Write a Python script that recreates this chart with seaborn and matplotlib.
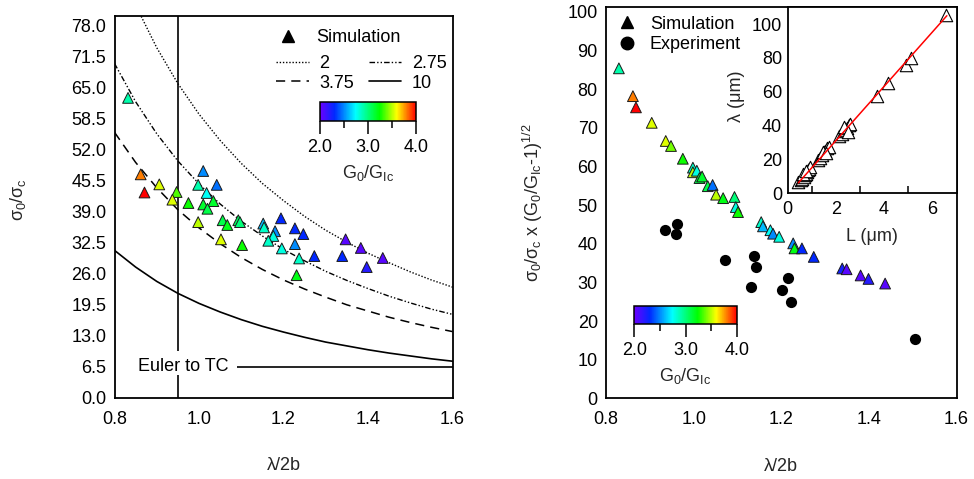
import matplotlib
matplotlib.use("Agg")
import numpy as np
import pandas as pd
import matplotlib.pyplot as plt
import seaborn as sns
from matplotlib.colors import LinearSegmentedColormap, Normalize
from matplotlib.cm import ScalarMappable
from matplotlib.lines import Line2D
from matplotlib.ticker import FixedLocator

sns.set_style("white")
plt.rcParams["font.family"] = ["Liberation Sans", "DejaVu Sans"]
plt.rcParams["mathtext.fontset"] = "custom"
plt.rcParams["mathtext.rm"] = "Liberation Sans"
plt.rcParams["mathtext.it"] = "Liberation Sans"
plt.rcParams["mathtext.sf"] = "Liberation Sans"
plt.rcParams["mathtext.bf"] = "Liberation Sans:bold"
plt.rcParams["axes.edgecolor"] = "black"
plt.rcParams["text.color"] = "black"
plt.rcParams["xtick.color"] = "black"
plt.rcParams["ytick.color"] = "black"
FS = 13

# ---------------- data: left panel ----------------
curve_x = [0.80, 0.85, 0.90, 0.95, 1.00, 1.05, 1.10, 1.15, 1.20, 1.25, 1.30,
           1.35, 1.40, 1.45, 1.50, 1.55, 1.60]
curve_2 = [92.8, 82.2, 73.3, 65.8, 59.4, 53.9, 49.1, 44.9, 41.3, 38.0, 35.1,
           32.6, 30.3, 28.3, 26.4, 24.7, 23.2]
curve_275 = [70.0, 62.0, 55.3, 49.6, 44.8, 40.6, 37.0, 33.9, 31.1, 28.7, 26.5,
             24.6, 22.9, 21.3, 19.9, 18.6, 17.5]
curve_375 = [55.6, 49.3, 44.0, 39.4, 35.6, 32.3, 29.4, 26.9, 24.7, 22.8, 21.1,
             19.5, 18.2, 16.9, 15.8, 14.8, 13.9]
curve_10 = [30.9, 27.4, 24.4, 21.9, 19.8, 18.0, 16.4, 15.0, 13.8, 12.7, 11.7,
            10.9, 10.1, 9.4, 8.8, 8.2, 7.7]
curve_labels = ["2", "2.75", "3.75", "10"]

sim_left_x = [0.862, 0.871, 0.906, 0.947, 0.937, 0.975, 1.010, 0.998, 1.018, 1.042,
              1.010, 1.034, 1.020, 0.998, 1.056, 1.067, 1.052, 1.102, 1.093, 1.097,
              1.152, 1.154, 1.194, 1.180, 1.176, 1.164, 1.196, 1.227, 1.247, 1.227,
              1.237, 1.231, 1.273, 1.339, 1.347, 1.383, 1.397, 1.435, 0.832]
sim_left_y = [46.8, 43.0, 44.7, 43.1, 41.5, 40.8, 47.5, 44.6, 42.9, 44.6,
              40.5, 41.2, 39.6, 36.8, 37.2, 36.2, 33.2, 32.0, 37.2, 36.8,
              36.5, 35.7, 37.6, 34.9, 33.9, 32.9, 31.3, 35.5, 34.3, 32.2,
              29.2, 25.7, 29.7, 29.7, 33.2, 31.4, 27.4, 29.3, 62.8]
sim_left_g = [3.8, 4.0, 3.55, 3.35, 3.55, 3.25, 2.5, 2.9, 2.75, 2.45,
              3.15, 3.15, 3.1, 3.5, 3.1, 3.2, 3.55, 3.25, 3.05, 3.0,
              2.6, 2.85, 2.3, 2.5, 2.8, 2.85, 2.8, 2.3, 2.3, 2.5,
              2.85, 3.2, 2.3, 2.3, 2.05, 2.05, 2.2, 2.05, 2.9]

euler_level = 6.5
euler_line_x = [1.089, 1.6]
transition_x = 0.95
transition_segments = [(0.0, 4.8), (9.9, 80.0)]

# ---------------- data: right panel ----------------
sim_right_x = [0.829, 0.861, 0.868, 0.904, 0.936, 0.948, 0.975, 0.998, 0.998, 1.007,
               1.013, 1.019, 1.032, 1.043, 1.051, 1.067, 1.093, 1.096, 1.101, 1.154,
               1.158, 1.175, 1.181, 1.195, 1.227, 1.230, 1.247, 1.274, 1.339, 1.349,
               1.381, 1.399, 1.437]
sim_right_y = [85.4, 78.2, 75.3, 71.3, 66.6, 65.3, 62.0, 59.7, 58.5, 58.9,
               57.0, 57.4, 54.9, 55.2, 52.7, 51.8, 52.1, 49.5, 48.2, 45.6,
               44.5, 43.5, 42.6, 41.8, 40.1, 38.8, 38.8, 36.6, 33.6, 33.4,
               31.8, 30.9, 29.7]
sim_right_g = [2.9, 3.8, 4.0, 3.55, 3.55, 3.4, 3.25, 2.85, 3.5, 2.8,
               3.1, 3.15, 3.1, 2.45, 3.5, 3.2, 3.0, 2.8, 3.25, 2.85,
               2.6, 2.75, 2.5, 2.8, 2.5, 3.2, 2.3, 2.3, 2.25, 2.05,
               2.05, 2.2, 2.05]

exp_x = [0.934, 0.961, 0.959, 1.072, 1.137, 1.142, 1.215, 1.131, 1.202, 1.221, 1.505]
exp_y = [43.5, 45.2, 42.5, 35.7, 36.8, 34.0, 31.2, 28.8, 28.0, 24.9, 15.4]

# ---------------- data: inset ----------------
inset_L = [0.45, 0.55, 0.62, 0.68, 0.72, 0.78, 0.82, 0.86, 0.90, 0.95, 0.65, 0.75,
           1.25, 1.35, 1.42, 1.50, 1.55, 1.62, 1.70, 1.45, 1.58,
           2.15, 2.25, 2.32, 2.40, 2.45, 2.55, 2.60, 2.35, 2.50,
           3.71, 4.15, 4.89, 5.10, 6.58]
inset_lam = [6.5, 7.5, 8.5, 9.5, 10.5, 11.5, 12.5, 13.5, 14.5, 15.5, 11.0, 13.0,
             19.5, 21.0, 22.5, 24.0, 25.0, 26.5, 27.5, 24.5, 23.5,
             33.5, 35.0, 36.5, 37.5, 38.5, 40.0, 41.0, 39.0, 36.0,
             57.7, 64.9, 75.6, 80.1, 105.4]
fit_L = [0.45, 6.60]
fit_lam = [6.0, 105.0]

# ---------------- colormap ----------------
cmap = LinearSegmentedColormap.from_list(
    "rb", [(0.0, "#6a00ff"), (0.15, "#0028ff"), (0.37, "#00ffff"),
           (0.62, "#00ff00"), (0.80, "#ffff00"), (0.90, "#ff8000"),
           (1.0, "#ff0000")])
norm = Normalize(2.0, 4.0)

W, H = 974, 479
fig = plt.figure(figsize=(W / 100, H / 100), dpi=100)


def fax(x0, y0, x1, y1):
    return fig.add_axes([x0 / W, 1 - y1 / H, (x1 - x0) / W, (y1 - y0) / H])


# ================= LEFT PANEL =================
ax1 = fax(114.5, 15.7, 452.5, 398)
styles = [dict(linestyle=(0, (1, 1.3)), lw=1.0),
          dict(linestyle=(0, (4, 1.5, 1, 1.5, 1, 1.5)), lw=1.0),
          dict(linestyle=(0, (6, 4)), lw=1.1),
          dict(linestyle="-", lw=1.2)]
for lab, yy, st in zip(curve_labels, [curve_2, curve_275, curve_375, curve_10], styles):
    sns.lineplot(x=curve_x, y=yy, ax=ax1, color="black", label=None, **st)

for y0, y1 in transition_segments:
    ax1.vlines(transition_x, y0, y1, color="black", lw=1.2)
ax1.hlines(euler_level, euler_line_x[0], euler_line_x[1], color="black", lw=1.2)
ax1.text(0.855, euler_level, "Euler to TC", va="center", ha="left", fontsize=FS)

sns.scatterplot(x=sim_left_x, y=sim_left_y, hue=sim_left_g, palette=cmap,
                hue_norm=(2.0, 4.0), marker="^", s=60, edgecolor="#1a1a1a",
                linewidth=0.7, legend=False, ax=ax1, zorder=5)

ax1.set_xlim(0.8, 1.6)
ax1.set_ylim(0, 80)
ax1.set_xticks([0.8, 1.0, 1.2, 1.4, 1.6])
ax1.set_xticklabels(["0.8", "1.0", "1.2", "1.4", "1.6"])
yt = [0.0, 6.5, 13.0, 19.5, 26.0, 32.5, 39.0, 45.5, 52.0, 58.5, 65.0, 71.5, 78.0]
ax1.set_yticks(yt)
ax1.set_yticklabels([f"{v:.1f}" for v in yt])
ax1.tick_params(axis="both", direction="in", length=8.5, width=1.1, labelsize=FS)
ax1.tick_params(axis="x", pad=9)
ax1.tick_params(axis="y", pad=6)
for s in ax1.spines.values():
    s.set_linewidth(1.3)
    s.set_visible(True)
ax1.set_xlabel("λ/2b", fontsize=FS)
ax1.xaxis.set_label_coords(0.5, -0.155)
ax1.set_ylabel(r"$\sigma_0/\sigma_c$", fontsize=FS)
ax1.yaxis.set_label_coords(-0.255, 0.52)

# legends
h_sim = Line2D([], [], marker="^", color="black", linestyle="none", markersize=9)
leg1 = ax1.legend([h_sim], ["Simulation"], loc="upper left",
                  bbox_to_anchor=(0.425, 1.007), frameon=False, fontsize=FS,
                  handlelength=1.5, handletextpad=0.8)
ax1.add_artist(leg1)
hl = [Line2D([], [], color="black", **st) for st in styles]
order = [0, 2, 1, 3]
ax1.legend([hl[i] for i in order], [curve_labels[i] for i in order], ncol=2,
           loc="upper left", bbox_to_anchor=(0.43, 0.94), frameon=False,
           fontsize=FS, handlelength=1.8, handletextpad=0.6, columnspacing=0.8,
           labelspacing=0.15)

cax1 = fax(320, 102.3, 416, 120.7)
cb1 = fig.colorbar(ScalarMappable(norm=norm, cmap=cmap), cax=cax1, orientation="horizontal")
cb1.set_ticks([2.0, 3.0, 4.0])
cb1.set_ticklabels(["2.0", "3.0", "4.0"])
cax1.xaxis.set_minor_locator(FixedLocator([2.5, 3.5]))
cax1.tick_params(which="major", direction="out", length=9, width=1.1, labelsize=FS, pad=4)
cax1.tick_params(which="minor", direction="out", length=5, width=1.1)
cb1.outline.set_linewidth(1.1)
cax1.set_xlabel(r"G$_0$/G$_{\mathrm{Ic}}$", fontsize=FS, labelpad=5)

# ================= RIGHT PANEL =================
ax2 = fax(606.2, 7.3, 956.5, 398.3)
sns.scatterplot(x=exp_x, y=exp_y, color="black", marker="o", s=65,
                edgecolor="black", linewidth=0, ax=ax2, legend=False)
sns.scatterplot(x=sim_right_x, y=sim_right_y, hue=sim_right_g, palette=cmap,
                hue_norm=(2.0, 4.0), marker="^", s=60, edgecolor="#1a1a1a",
                linewidth=0.7, legend=False, ax=ax2, zorder=5)
ax2.set_xlim(0.8, 1.6)
ax2.set_ylim(0, 101.2)
ax2.set_xticks([0.8, 1.0, 1.2, 1.4, 1.6])
ax2.set_xticklabels(["0.8", "1.0", "1.2", "1.4", "1.6"])
ax2.set_yticks(list(range(0, 101, 10)))
ax2.tick_params(axis="both", direction="in", length=8.5, width=1.1, labelsize=FS)
ax2.tick_params(axis="x", pad=9)
ax2.tick_params(axis="y", pad=6)
for s in ax2.spines.values():
    s.set_linewidth(1.3)
ax2.set_xlabel("λ/2b", fontsize=FS)
ax2.xaxis.set_label_coords(0.5, -0.152)
ax2.set_ylabel(r"$\sigma_0/\sigma_c$ x (G$_0$/G$_{\mathrm{Ic}}$-1)$^{1/2}$", fontsize=FS)
ax2.yaxis.set_label_coords(-0.175, 0.5)

h_exp = Line2D([], [], marker="o", color="black", linestyle="none", markersize=9)
ax2.legend([h_sim, h_exp], ["Simulation", "Experiment"], loc="upper left",
           bbox_to_anchor=(-0.025, 1.02), frameon=False, fontsize=FS,
           handlelength=1.5, handletextpad=0.5, labelspacing=0.2)

cax2 = fax(634.3, 305.7, 736.7, 324)
cb2 = fig.colorbar(ScalarMappable(norm=norm, cmap=cmap), cax=cax2, orientation="horizontal")
cb2.set_ticks([2.0, 3.0, 4.0])
cb2.set_ticklabels(["2.0", "3.0", "4.0"])
cax2.xaxis.set_minor_locator(FixedLocator([2.5, 3.5]))
cax2.tick_params(which="major", direction="out", length=9, width=1.1, labelsize=FS, pad=4)
cax2.tick_params(which="minor", direction="out", length=5, width=1.1)
cb2.outline.set_linewidth(1.1)
cax2.set_xlabel(r"G$_0$/G$_{\mathrm{Ic}}$", fontsize=FS, labelpad=5)

# ================= INSET =================
ax3 = fax(787.5, 7.3, 956.5, 193)
ax3.set_facecolor("white")
sns.lineplot(x=fit_L, y=fit_lam, color="red", lw=1.1, ax=ax3, zorder=4)
sns.scatterplot(x=inset_L, y=inset_lam, marker="^", s=80, facecolor="white",
                edgecolor="black", linewidth=0.8, ax=ax3, legend=False, zorder=3)
ax3.set_xlim(0, 7)
ax3.set_ylim(0, 110)
ax3.set_xticks([0, 2, 4, 6])
ax3.xaxis.set_minor_locator(FixedLocator([1, 3, 5]))
ax3.set_yticks([0, 20, 40, 60, 80, 100])
ax3.tick_params(which="major", direction="in", length=8, width=1.1, labelsize=FS)
ax3.tick_params(which="minor", direction="in", length=5, width=1.1, bottom=True)
ax3.tick_params(axis="x", pad=6)
ax3.tick_params(axis="y", pad=4)
for s in ax3.spines.values():
    s.set_linewidth(1.3)
ax3.set_xlabel("L (μm)", fontsize=FS)
ax3.xaxis.set_label_coords(0.5, -0.19)
ax3.set_ylabel("λ (μm)", fontsize=FS)
ax3.yaxis.set_label_coords(-0.25, 0.52)

fig.savefig("out.png", dpi=100)
